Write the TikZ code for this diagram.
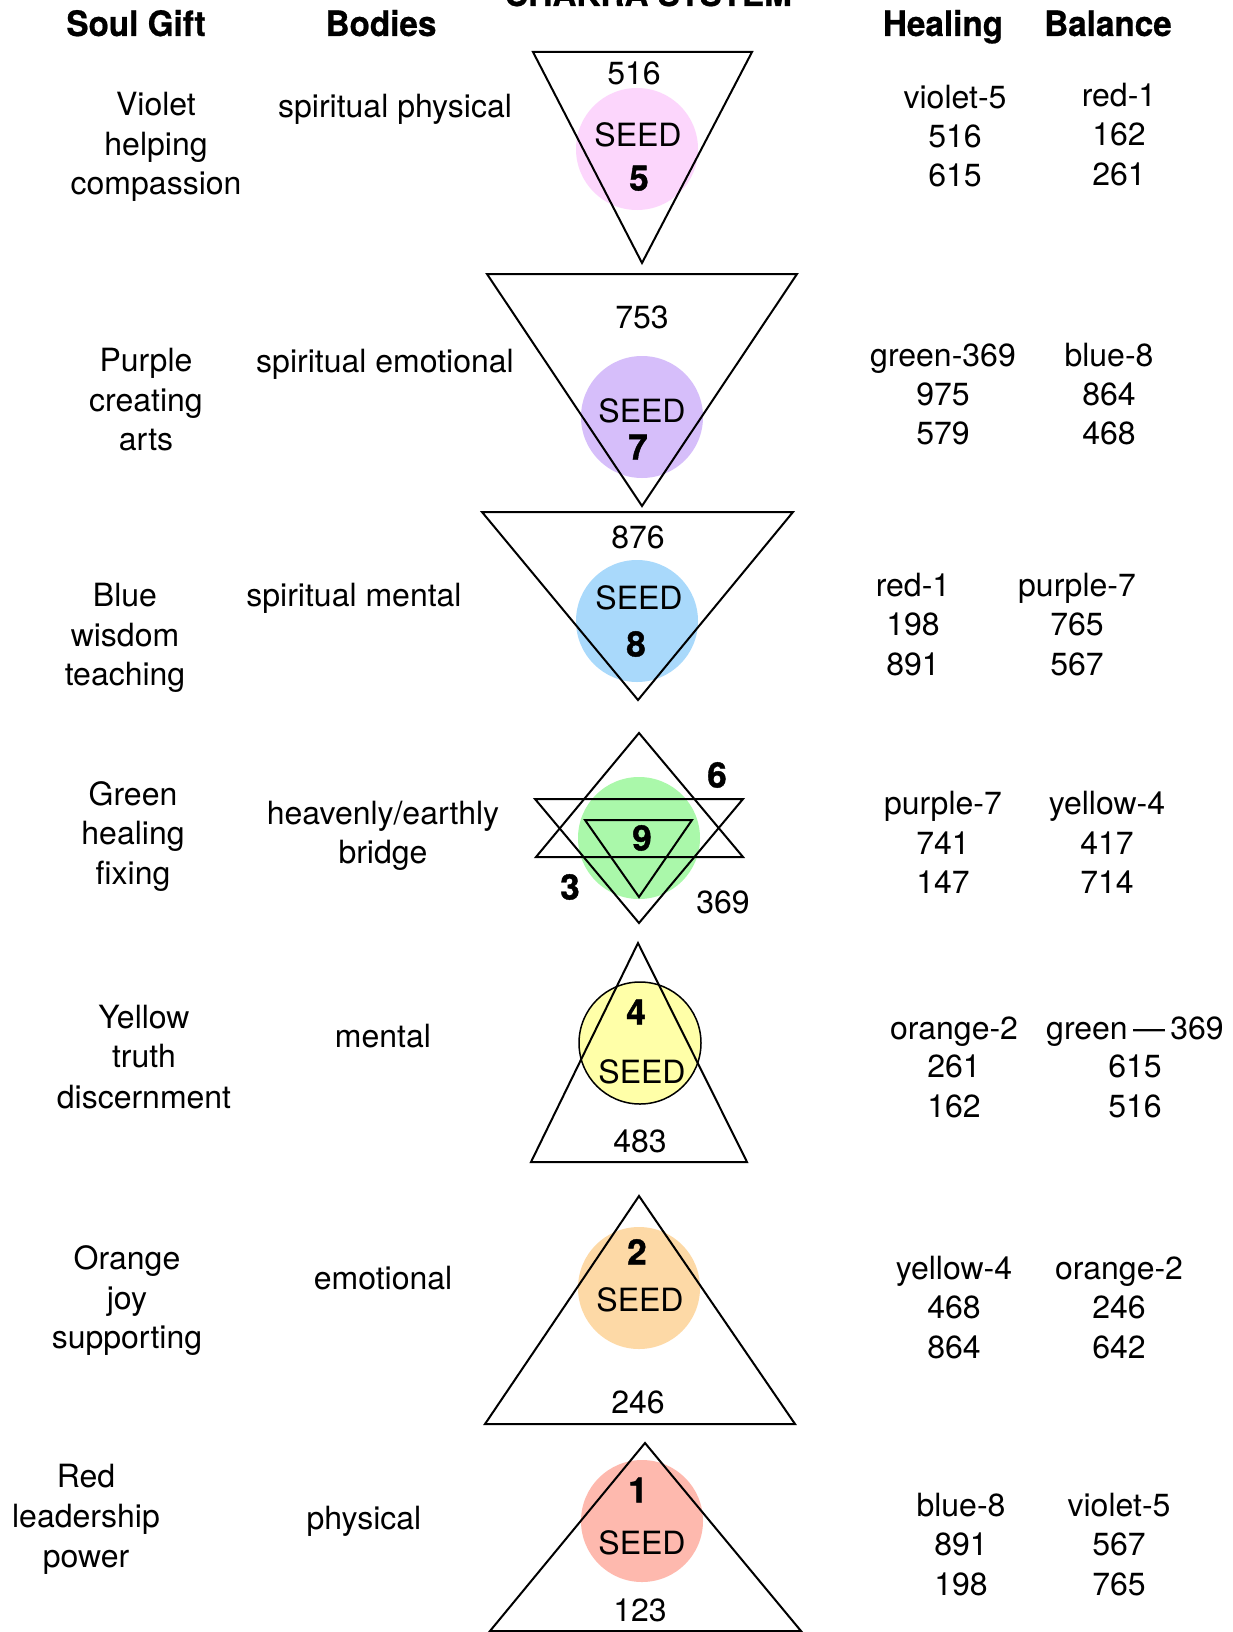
\documentclass[tikz,border=0pt]{standalone}
\usepackage{fontspec}
\setmainfont{TeX Gyre Heros}
\newfontfamily\hdrfont[FakeStretch=0.95,BoldFeatures={FakeBold=0.6}]{TeX Gyre Heros}
\newfontfamily\heavyfont[BoldFeatures={FakeBold=1.2}]{TeX Gyre Heros}
\definecolor{cpink}{RGB}{252,214,252}
\definecolor{cpurple}{RGB}{214,190,250}
\definecolor{cblue}{RGB}{169,217,251}
\definecolor{cgreen}{RGB}{170,248,170}
\definecolor{cyellow}{RGB}{255,255,168}
\definecolor{corange}{RGB}{253,217,166}
\definecolor{cred}{RGB}{254,185,174}
\tikzset{
  txt/.style={inner sep=0pt, anchor=base, font=\fontsize{32}{39.5}\selectfont},
  bnum/.style={inner sep=0pt, anchor=base, font=\heavyfont\fontsize{35}{40}\selectfont\bfseries},
  hdr/.style={inner sep=0pt, anchor=base, font=\hdrfont\fontsize{35}{40}\selectfont\bfseries},
  tri/.style={draw=black, line width=2pt, line join=miter},
  seedcirc/.style={circle, inner sep=0pt, minimum size=122pt, draw=none},
}
\newcommand\mytxt[4]{\node[txt] (#1) at (#2,{#3+11.5}) {#4};}
\newcommand\mybnum[4]{\node[bnum] (#1) at (#2,{#3+12.5}) {#4};}
\begin{document}
\begin{tikzpicture}[x=1pt,y=-1pt]
\useasboundingbox (0,0) rectangle (1233,1632);
\clip (0,0) rectangle (1233,1632);
\fill[white] (0,0) rectangle (1233,1632);

% headers
\node[hdr] (title) at (648,6) {CHAKRA SYSTEM};
\node[hdr] (hSoul) at (136,36) {Soul Gift};
\node[hdr] (hBod) at (381,36) {Bodies};
\node[hdr] (hHeal) at (943,36) {Healing};
\node[hdr] (hBal) at (1108,36) {Balance};

% circles
\node[seedcirc, fill=cpink] (c5) at (637,149) {};
\node[seedcirc, fill=cpurple] (c7) at (642,417) {};
\node[seedcirc, fill=cblue] (c8) at (637,621) {};
\node[seedcirc, fill=cgreen] (c9) at (639,838) {};
\node[seedcirc, fill=cyellow, draw=black, line width=1.5pt] (c4) at (640,1043) {};
\node[seedcirc, fill=corange] (c2) at (639,1288) {};
\node[seedcirc, fill=cred] (c1) at (642,1521) {};

% triangles
\draw[tri] (533,52) -- (752,52) -- (642,263) -- cycle;
\draw[tri] (487,274) -- (797,274) -- (642,506) -- cycle;
\draw[tri] (482,512) -- (793,512) -- (638,700) -- cycle;
\draw[tri] (639,733) -- (743,857) -- (536,857) -- cycle;
\draw[tri] (535,799) -- (743,799) -- (639,923) -- cycle;
\draw[tri] (585,820) -- (692,820) -- (639,897) -- cycle;
\draw[tri] (638,943) -- (747,1162) -- (531,1162) -- cycle;
\draw[tri] (639,1196) -- (795,1424) -- (485,1424) -- cycle;
\draw[tri] (645,1443) -- (801,1631) -- (490,1631) -- cycle;

% chakra texts
\mytxt{n516}{634}{73}{516}
\mytxt{s5}{638}{135}{SEED}
\mybnum{b5}{639}{178}{5}
\mytxt{n753}{642}{317}{753}
\mytxt{s7}{642}{411}{SEED}
\mybnum{b7}{638}{447}{7}
\mytxt{n876}{638}{537}{876}
\mytxt{s8}{639}{598}{SEED}
\mybnum{b8}{636}{644}{8}
\mybnum{b9}{642}{838}{9}
\mybnum{b6}{717}{775}{6}
\mybnum{b3}{570}{887}{3}
\mytxt{n369}{723}{902}{369}
\mybnum{b4}{636}{1012}{4}
\mytxt{s4}{642}{1072}{SEED}
\mytxt{n483}{640}{1141}{483}
\mybnum{b2}{637}{1252}{2}
\mytxt{s2}{640}{1300}{SEED}
\mytxt{n246}{638}{1402}{246}
\mybnum{b1}{638}{1490}{1}
\mytxt{s1}{642}{1543}{SEED}
\mytxt{n123}{640}{1610}{123}

% soul gift column
\mytxt{sgA1}{156}{104}{Violet}
\mytxt{sgA2}{156}{144}{helping}
\mytxt{sgA3}{156}{183}{compassion}
\mytxt{sgB1}{146}{360}{Purple}
\mytxt{sgB2}{146}{400}{creating}
\mytxt{sgB3}{146}{439}{arts}
\mytxt{sgC1}{125}{595}{Blue}
\mytxt{sgC2}{125}{635}{wisdom}
\mytxt{sgC3}{125}{674}{teaching}
\mytxt{sgD1}{133}{794}{Green}
\mytxt{sgD2}{133}{833}{healing}
\mytxt{sgD3}{133}{873}{fixing}
\mytxt{sgE1}{144}{1017}{Yellow}
\mytxt{sgE2}{144}{1056}{truth}
\mytxt{sgE3}{144}{1097}{discernment}
\mytxt{sgF1}{127}{1258}{Orange}
\mytxt{sgF2}{127}{1298}{joy}
\mytxt{sgF3}{127}{1337}{supporting}
\mytxt{sgG1}{86}{1476}{Red}
\mytxt{sgG2}{86}{1516}{leadership}
\mytxt{sgG3}{86}{1556}{power}

% bodies column
\mytxt{bdA}{395}{106}{spiritual physical}
\mytxt{bdB}{385}{361}{spiritual emotional}
\mytxt{bdC}{354}{595}{spiritual mental}
\mytxt{bdD1}{383}{813}{heavenly/earthly}
\mytxt{bdD2}{383}{852}{bridge}
\mytxt{bdE}{383}{1036}{mental}
\mytxt{bdF}{383}{1278}{emotional}
\mytxt{bdG}{364}{1518}{physical}

% healing column
\mytxt{hlA1}{955}{97}{violet-5}
\mytxt{hlA2}{955}{136}{516}
\mytxt{hlA3}{955}{175}{615}
\mytxt{hlB1}{943}{355}{green-369}
\mytxt{hlB2}{943}{394}{975}
\mytxt{hlB3}{943}{433}{579}
\mytxt{hlC1}{913}{585}{red-1}
\mytxt{hlC2}{913}{624}{198}
\mytxt{hlC3}{913}{664}{891}
\mytxt{hlD1}{943}{803}{purple-7}
\mytxt{hlD2}{943}{843}{741}
\mytxt{hlD3}{943}{882}{147}
\mytxt{hlE1}{954}{1028}{orange-2}
\mytxt{hlE2}{954}{1066}{261}
\mytxt{hlE3}{954}{1106}{162}
\mytxt{hlF1}{954}{1268}{yellow-4}
\mytxt{hlF2}{954}{1307}{468}
\mytxt{hlF3}{954}{1347}{864}
\mytxt{hlG1}{961}{1505}{blue-8}
\mytxt{hlG2}{961}{1544}{891}
\mytxt{hlG3}{961}{1584}{198}

% balance column
\mytxt{blA1}{1119}{95}{red-1}
\mytxt{blA2}{1119}{134}{162}
\mytxt{blA3}{1119}{174}{261}
\mytxt{blB1}{1109}{355}{blue-8}
\mytxt{blB2}{1109}{394}{864}
\mytxt{blB3}{1109}{433}{468}
\mytxt{blC1}{1077}{585}{purple-7}
\mytxt{blC2}{1077}{624}{765}
\mytxt{blC3}{1077}{664}{567}
\mytxt{blD1}{1107}{803}{yellow-4}
\mytxt{blD2}{1107}{843}{417}
\mytxt{blD3}{1107}{882}{714}
\mytxt{blE1}{1135}{1028}{green\,—\,369}
\mytxt{blE2}{1135}{1066}{615}
\mytxt{blE3}{1135}{1106}{516}
\mytxt{blF1}{1119}{1268}{orange-2}
\mytxt{blF2}{1119}{1307}{246}
\mytxt{blF3}{1119}{1347}{642}
\mytxt{blG1}{1119}{1505}{violet-5}
\mytxt{blG2}{1119}{1544}{567}
\mytxt{blG3}{1119}{1584}{765}
\end{tikzpicture}
\end{document}
